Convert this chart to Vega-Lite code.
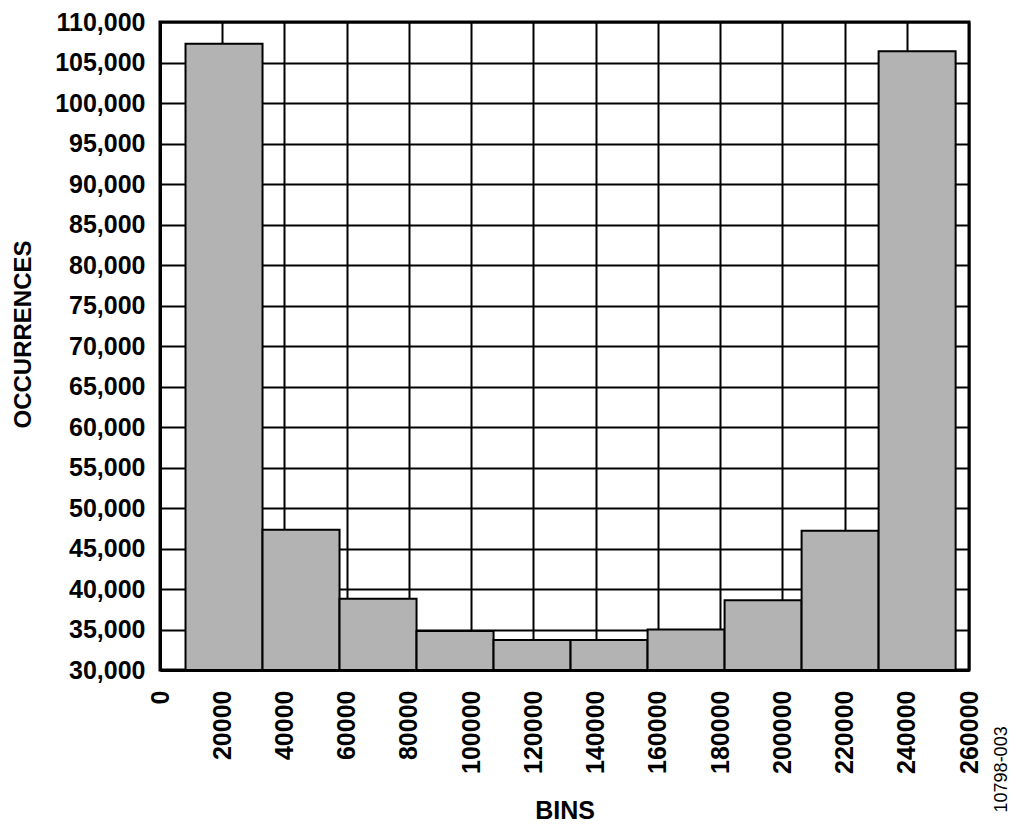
{
  "$schema": "https://vega.github.io/schema/vega-lite/v6.json",
  "width": 809,
  "height": 648,
  "autosize": {"type": "none"},
  "padding": {"left": 160, "top": 22, "right": 55, "bottom": 161},
  "background": "white",
  "config": {
    "font": "Liberation Sans",
    "view": {"stroke": "black", "strokeWidth": 3}
  },
  "title": {
    "text": "10798-003",
    "orient": "right",
    "anchor": "end",
    "frame": "bounds",
    "angle": 270,
    "align": "left",
    "baseline": "middle",
    "fontSize": 18,
    "fontWeight": "normal",
    "color": "black",
    "offset": 2,
    "dx": 11
  },
  "data": {
    "values": [
      {"bin_start": 8200, "bin_end": 32950, "count": 107300},
      {"bin_start": 32950, "bin_end": 57700, "count": 47300},
      {"bin_start": 57700, "bin_end": 82450, "count": 38800},
      {"bin_start": 82450, "bin_end": 107200, "count": 34800},
      {"bin_start": 107200, "bin_end": 131950, "count": 33700},
      {"bin_start": 131950, "bin_end": 156700, "count": 33700},
      {"bin_start": 156700, "bin_end": 181450, "count": 35000},
      {"bin_start": 181450, "bin_end": 206200, "count": 38600},
      {"bin_start": 206200, "bin_end": 230950, "count": 47200},
      {"bin_start": 230950, "bin_end": 255700, "count": 106400}
    ]
  },
  "mark": {"type": "rect", "fill": "#b3b3b3", "stroke": "black", "strokeWidth": 2},
  "encoding": {
    "x": {
      "field": "bin_start",
      "type": "quantitative",
      "scale": {"domain": [0, 260000], "nice": false, "zero": false},
      "axis": {
        "title": "BINS",
        "values": [0, 20000, 40000, 60000, 80000, 100000, 120000, 140000, 160000, 180000, 200000, 220000, 240000, 260000],
        "format": "d",
        "labelAngle": -90,
        "labelFontSize": 25,
        "labelFontWeight": "bold",
        "labelColor": "black",
        "labelPadding": 20,
        "labelFlush": false,
        "labelOverlap": false,
        "ticks": false,
        "grid": true,
        "gridColor": "black",
        "gridWidth": 2,
        "gridOpacity": 1,
        "domainColor": "black",
        "domainWidth": 3,
        "titleFontSize": 25,
        "titleFontWeight": "bold",
        "titleColor": "black",
        "titlePadding": 25
      }
    },
    "x2": {"field": "bin_end"},
    "y": {
      "field": "count",
      "type": "quantitative",
      "scale": {"domain": [30000, 110000], "nice": false, "zero": false},
      "axis": {
        "title": "OCCURRENCES",
        "values": [30000, 35000, 40000, 45000, 50000, 55000, 60000, 65000, 70000, 75000, 80000, 85000, 90000, 95000, 100000, 105000, 110000],
        "format": ",d",
        "labelFontSize": 25,
        "labelFontWeight": "bold",
        "labelColor": "black",
        "labelPadding": 15,
        "labelFlush": false,
        "labelOverlap": false,
        "ticks": false,
        "grid": true,
        "gridColor": "black",
        "gridWidth": 2,
        "gridOpacity": 1,
        "domainColor": "black",
        "domainWidth": 3,
        "titleFontSize": 24,
        "titleFontWeight": "bold",
        "titleColor": "black",
        "titlePadding": 19,
        "titleY": 312
      }
    },
    "y2": {"datum": 30000}
  }
}
